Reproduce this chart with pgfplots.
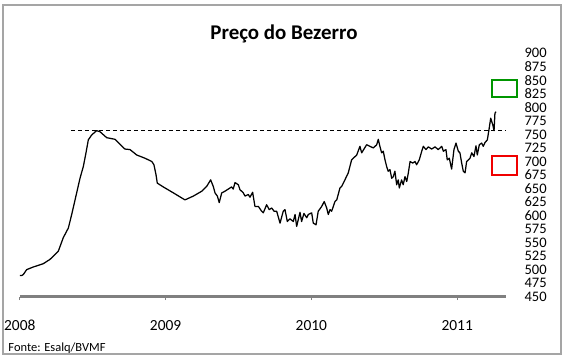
\documentclass[border=0pt]{standalone}
\usepackage{fontspec}
\setmainfont{Carlito}
\usepackage{pgfplots}
\pgfplotsset{compat=1.18}
\definecolor{bordergray}{RGB}{165,165,165}
\definecolor{axgray}{RGB}{128,128,128}
\definecolor{boxgreen}{RGB}{0,150,0}
\definecolor{boxred}{RGB}{240,0,0}
\begin{document}
\begin{tikzpicture}[x=1bp,y=1bp]
\useasboundingbox (-19.8,-61.3) rectangle (544.2,296.7);
\draw[bordergray, line width=1.2bp] (-16.8,291.7) rectangle (541.2,-57.3);
\begin{axis}[
  at={(0,0)}, anchor=south west,
  width=486.2bp, height=243.4bp, scale only axis,
  xmin=2008, xmax=2011.335, ymin=450, ymax=900,
  clip=false,
  axis x line*=bottom,
  axis y line*=right,
  x axis line style={axgray, line width=2.5bp, -},
  y axis line style={draw=none},
  xtick={2008,2009,2010,2011},
  xticklabels={2008,2009,2010,2011},
  ytick={450,475,...,900},
  tick align=outside,
  major tick length=3.5bp,
  xtick style={axgray, line width=0.8bp},
  ytick style={draw=none},
  /pgf/number format/assume math mode=true,
  /pgf/number format/1000 sep={},
  yticklabel style={anchor=west, inner sep=0pt, xshift=14.9bp, font=\fontsize{14.6}{14.6}\selectfont},
  xticklabel style={anchor=base, inner sep=0pt, yshift=-30bp, font=\fontsize{15.5}{15.5}\selectfont},
]
\addplot[black, line width=0.6bp, dash pattern=on 4bp off 3bp] coordinates {(2008.35,757) (2011.335,757)};
\addplot[black, line width=1.25bp, line join=round] table {
x y
2008.000 489
2008.012 489
2008.024 491
2008.047 500
2008.093 505
2008.161 511
2008.207 519
2008.264 534
2008.298 559
2008.333 577
2008.356 602
2008.379 629
2008.413 669
2008.436 691
2008.454 716
2008.470 740
2008.493 749
2008.527 757
2008.550 755
2008.596 744
2008.653 741
2008.721 723
2008.756 722
2008.802 712
2008.859 706
2008.905 700
2008.920 694
2008.934 676
2008.943 660
2008.984 653
2009.053 642
2009.133 629
2009.190 636
2009.248 645
2009.282 654
2009.309 666
2009.327 654
2009.339 642
2009.355 636
2009.368 624
2009.385 642
2009.407 645
2009.430 649
2009.453 653
2009.464 649
2009.476 661
2009.499 657
2009.510 648
2009.533 642
2009.545 636
2009.567 639
2009.579 634
2009.597 643
2009.613 617
2009.636 617
2009.659 608
2009.670 605
2009.693 620
2009.711 611
2009.728 614
2009.744 608
2009.762 608
2009.785 586
2009.807 608
2009.819 611
2009.835 589
2009.853 594
2009.876 589
2009.888 602
2009.899 580
2009.922 606
2009.933 589
2009.949 604
2009.968 596
2009.979 602
2010.002 605
2010.013 586
2010.032 583
2010.047 608
2010.071 617
2010.088 626
2010.105 614
2010.116 602
2010.128 611
2010.139 608
2010.162 626
2010.174 629
2010.196 651
2010.208 654
2010.230 666
2010.253 679
2010.276 703
2010.311 712
2010.333 728
2010.345 716
2010.379 731
2010.402 728
2010.425 725
2010.448 731
2010.459 741
2010.470 728
2010.482 716
2010.493 719
2010.505 703
2010.516 691
2010.527 682
2010.539 685
2010.551 669
2010.562 672
2010.573 682
2010.585 657
2010.596 666
2010.603 651
2010.619 666
2010.630 657
2010.642 672
2010.654 663
2010.665 679
2010.677 700
2010.695 697
2010.711 700
2010.722 694
2010.740 703
2010.757 719
2010.768 728
2010.786 722
2010.802 727
2010.825 723
2010.848 727
2010.870 722
2010.894 728
2010.905 719
2010.923 722
2010.932 703
2010.946 706
2010.962 686
2010.978 722
2010.992 734
2011.008 719
2011.019 716
2011.031 697
2011.042 682
2011.054 679
2011.065 700
2011.088 706
2011.100 716
2011.115 709
2011.129 729
2011.138 712
2011.152 731
2011.168 734
2011.179 728
2011.191 735
2011.207 740
2011.220 762
2011.230 780
2011.244 768
2011.253 757
2011.259 789
2011.266 792
};
\draw[boxgreen, line width=2.2bp] (axis cs:2011.239,819) rectangle (axis cs:2011.410,850);
\draw[boxred, line width=2.2bp] (axis cs:2011.239,675) rectangle (axis cs:2011.410,710);
\end{axis}
\node[anchor=base, font=\bfseries\fontsize{21}{21}\selectfont] at (264.2,257.2) {Preço do Bezerro};
\node[anchor=base west, inner sep=0pt, font=\fontsize{12.5}{12.5}\selectfont] at (-11.5,-54.8) {Fonte: Esalq/BVMF};
\end{tikzpicture}
\end{document}
